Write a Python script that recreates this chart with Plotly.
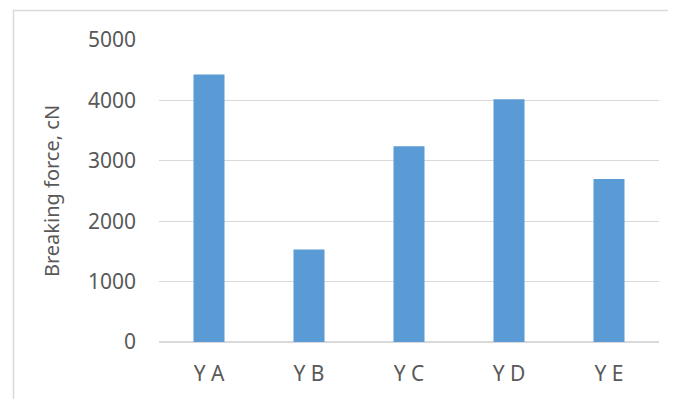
import plotly.graph_objects as go

categories = ["Y A", "Y B", "Y C", "Y D", "Y E"]
breaking_force = [4430, 1530, 3240, 4020, 2700]
y_ticks = [0, 1000, 2000, 3000, 4000, 5000]
y_title = "Breaking force, cN"

# page body has an 8px margin; size the figure so it fits the 676x399 window
OFF = 8
W, H = 676 - OFF, 399 - OFF
L, R, T, B = 159 - OFF, W - (659 - OFF), 40 - OFF, H - (342 - OFF)

fig = go.Figure(go.Bar(x=categories, y=breaking_force, marker_color="#5b9bd5",
                       marker_line_width=0))

ph = H - T - B
pw = W - L - R
fig.add_shape(type="rect", xref="paper", yref="paper",
              x0=(13.5 - OFF - L) / pw, x1=(W + 20 - L) / pw,
              y0=-(B + 20) / ph, y1=(H - B - (10.5 - OFF)) / ph,
              line=dict(color="#d9d9d9", width=1.5), fillcolor="rgba(0,0,0,0)", layer="below")

tick_font = dict(family="Noto Sans", size=21, color="#595959")
title_font = dict(family="Noto Sans", size=20, color="#595959")
fig.update_layout(
    width=W, height=H,
    margin=dict(l=L, r=R, t=T, b=B),
    plot_bgcolor="white", paper_bgcolor="white",
    bargap=0.69, showlegend=False,
    font=tick_font,
    xaxis=dict(showgrid=False, ticks="", showline=False, tickfont=tick_font, ticklabelstandoff=17),
    yaxis=dict(range=[0, 5000], tickvals=y_ticks, showgrid=True, gridcolor="#d9d9d9",
               gridwidth=1, zeroline=True, zerolinecolor="#d9d9d9", zerolinewidth=1.5,
               showline=False, ticks="", tickfont=tick_font, ticklabelstandoff=22,
               title=dict(text=y_title, font=title_font, standoff=22)),
)
fig.write_html("out.html")
